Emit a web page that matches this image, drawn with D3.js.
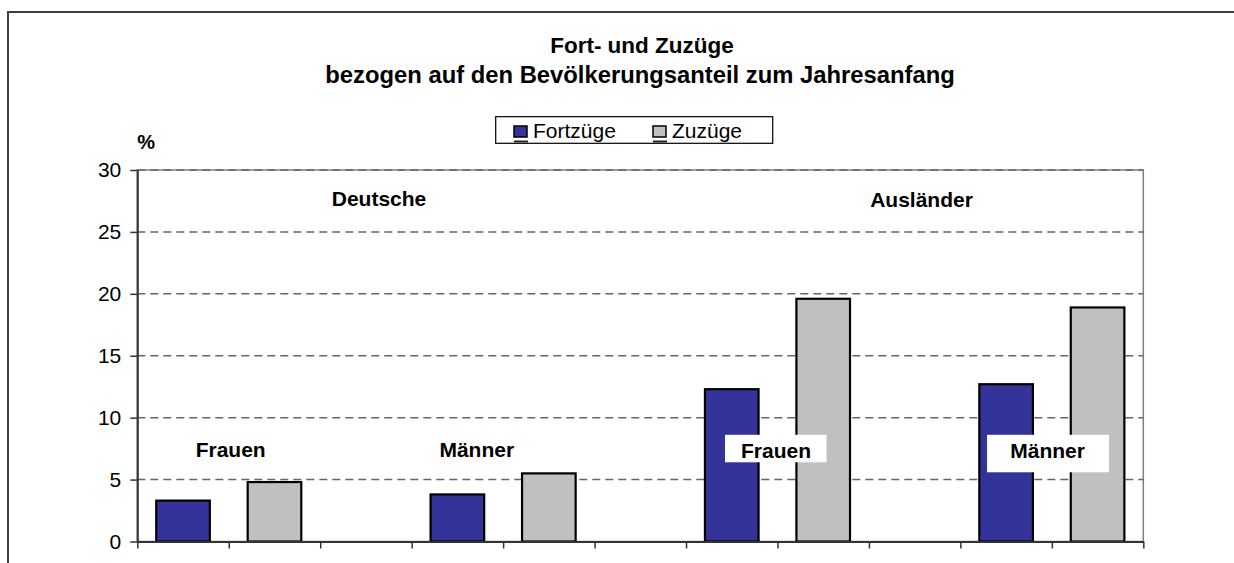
<!DOCTYPE html>
<html>
<head>
<meta charset="utf-8">
<script src="https://cdn.jsdelivr.net/npm/d3@7"></script>
<style>
  body { margin: 0; background: #fff; }
  svg { display: block; font-family: "Liberation Sans", Arial, sans-serif; }
</style>
</head>
<body>
<div id="chart"></div>
<script>
// data
const groups = ["Deutsche", "Ausländer"]
const sexes = ["Frauen", "Männer"]
const series = ["Fortzüge", "Zuzüge"]
const fortzuege = [3.3, 3.8, 12.3, 12.7]   // D-F, D-M, A-F, A-M
const zuzuege = [4.8, 5.5, 19.6, 18.9]
const yTicks = [0, 5, 10, 15, 20, 25, 30]
const colors = ["#333399", "#C0C0C0"]

// 11 slots: Fort, Zu, (gap) per group/sex
let categories = []
let bars = []
groups.forEach((g, gi) => {
  sexes.forEach((s, si) => {
    const p = gi * 2 + si
    categories.push(g + "-" + s + "-F", g + "-" + s + "-Z")
    bars.push({cat: g + "-" + s + "-F", value: fortzuege[p], k: 0})
    bars.push({cat: g + "-" + s + "-Z", value: zuzuege[p], k: 1})
    if (p < 3) categories.push("gap" + p)
  })
})

var width = 1234, height = 563
var margin = {top: 170, left: 137.3, right: 1234 - 1143.3, bottom: 563 - 541.5}

var svg = d3.select("#chart")
  .append("svg")
    .attr("width", width)
    .attr("height", height)
    .style("overflow", "hidden")

// outer chart frame (runs off right/bottom)
svg.append("rect")
    .attr("x", 8).attr("y", 12)
    .attr("width", 1400).attr("height", 700)
    .attr("fill", "none")
    .attr("stroke", "#404040")
    .attr("stroke-width", 2)

// title
svg.append("text")
    .attr("x", 642).attr("y", 53)
    .attr("text-anchor", "middle")
    .attr("font-weight", "bold").attr("font-size", 22.5)
    .text("Fort- und Zuzüge")
svg.append("text")
    .attr("x", 640).attr("y", 83)
    .attr("text-anchor", "middle")
    .attr("font-weight", "bold").attr("font-size", 23.8)
    .text("bezogen auf den Bevölkerungsanteil zum Jahresanfang")

var x = d3.scaleBand()
    .domain(categories)
    .range([margin.left, width - margin.right])
    .paddingInner(0.414)
    .paddingOuter(0.207)

var xPos = d3.scaleLinear()
    .domain([0, categories.length])
    .range([margin.left, width - margin.right])

var y = d3.scaleLinear()
    .domain([0, 30])
    .range([height - margin.bottom, margin.top])

// plot area border
svg.append("rect")
    .attr("x", xPos(0)).attr("y", y(30))
    .attr("width", xPos(categories.length) - xPos(0))
    .attr("height", y(0) - y(30))
    .attr("fill", "none")
    .attr("stroke", "#808080")
    .attr("stroke-width", 1.5)

// dashed gridlines
svg.append("g")
  .selectAll("line")
  .data(yTicks.filter(d => d > 0))
  .enter()
  .append("line")
    .attr("x1", xPos(0)).attr("x2", xPos(categories.length))
    .attr("y1", d => y(d)).attr("y2", d => y(d))
    .attr("stroke", "#666")
    .attr("stroke-width", 1.5)
    .attr("stroke-dasharray", "8,5")

// bars
svg.append("g")
  .selectAll("rect")
  .data(bars)
  .enter()
  .append("rect")
    .attr("x", d => x(d.cat))
    .attr("y", d => y(d.value))
    .attr("width", x.bandwidth())
    .attr("height", d => y(0) - y(d.value))
    .attr("fill", d => colors[d.k])
    .attr("stroke", "#000")
    .attr("stroke-width", 2.2)

// axes
var yAxis = svg.append("g")
    .attr("transform", "translate(" + margin.left + ",0)")
    .call(d3.axisLeft(y).tickValues(yTicks).tickSize(7).tickPadding(9).tickSizeOuter(0))
yAxis.select(".domain").attr("stroke", "#333").attr("stroke-width", 2)
yAxis.selectAll(".tick line").attr("stroke", "#333").attr("stroke-width", 1.5)
yAxis.selectAll("text")
    .attr("font-family", "Liberation Sans, Arial, sans-serif")
    .attr("font-size", 21)
    .attr("fill", "#000")

var xAxis = svg.append("g")
    .attr("transform", "translate(0," + y(0) + ")")
    .call(d3.axisBottom(xPos).tickValues(d3.range(categories.length + 1)).tickSize(7).tickSizeOuter(0).tickFormat(""))
xAxis.select(".domain").attr("stroke", "#333").attr("stroke-width", 2)
xAxis.selectAll(".tick line").attr("stroke", "#333").attr("stroke-width", 1.5)

// % unit label
svg.append("text")
    .attr("x", margin.left).attr("y", 149)
    .attr("font-weight", "bold").attr("font-size", 20)
    .text("%")

// group labels, placed in category/value units
const groupLabels = [
  {text: "Deutsche", c: 2.643, v: 27.13},
  {text: "Ausländer", c: 8.575, v: 27.05}
]
svg.append("g")
  .selectAll("text")
  .data(groupLabels)
  .enter()
  .append("text")
    .attr("x", d => xPos(d.c))
    .attr("y", d => y(d.v))
    .attr("text-anchor", "middle")
    .attr("font-weight", "bold").attr("font-size", 21)
    .text(d => d.text)

// sex labels (the Ausländer ones sit in white boxes)
const sexLabels = [
  {text: sexes[0], c: 1.021, v: 6.85, box: null},
  {text: sexes[1], c: 3.712, v: 6.85, box: null},
  {text: sexes[0], c: 6.984, v: 6.72, box: [-51, -23.5, 101.5, 27.5]},
  {text: sexes[1], c: 9.953, v: 6.72, box: [-60.5, -23.5, 122, 37.5]}
]
var sl = svg.append("g")
  .selectAll("g")
  .data(sexLabels)
  .enter()
  .append("g")
    .attr("transform", d => "translate(" + xPos(d.c) + "," + y(d.v) + ")")
sl.filter(d => d.box)
  .append("rect")
    .attr("x", d => d.box[0]).attr("y", d => d.box[1])
    .attr("width", d => d.box[2]).attr("height", d => d.box[3])
    .attr("fill", "#fff")
sl.append("text")
    .attr("text-anchor", "middle")
    .attr("font-weight", "bold").attr("font-size", 21)
    .text(d => d.text)

// legend
var legend = svg.append("g")
legend.append("rect")
    .attr("x", 495.7).attr("y", 116.7)
    .attr("width", 277).attr("height", 26.6)
    .attr("fill", "#fff")
    .attr("stroke", "#000")
    .attr("stroke-width", 1.2)
const legendX = [514, 653]
series.forEach((s, i) => {
  legend.append("rect")
      .attr("x", legendX[i]).attr("y", 126)
      .attr("width", 13).attr("height", 11)
      .attr("fill", colors[i])
      .attr("stroke", "#000")
      .attr("stroke-width", 1.5)
  legend.append("line")
      .attr("x1", legendX[i]).attr("x2", legendX[i] + 14)
      .attr("y1", 141.5).attr("y2", 141.5)
      .attr("stroke", "#222")
      .attr("stroke-width", 2)
  legend.append("text")
      .attr("x", legendX[i] + 19).attr("y", 138)
      .attr("font-size", 21)
      .text(s)
})
</script>
</body>
</html>
